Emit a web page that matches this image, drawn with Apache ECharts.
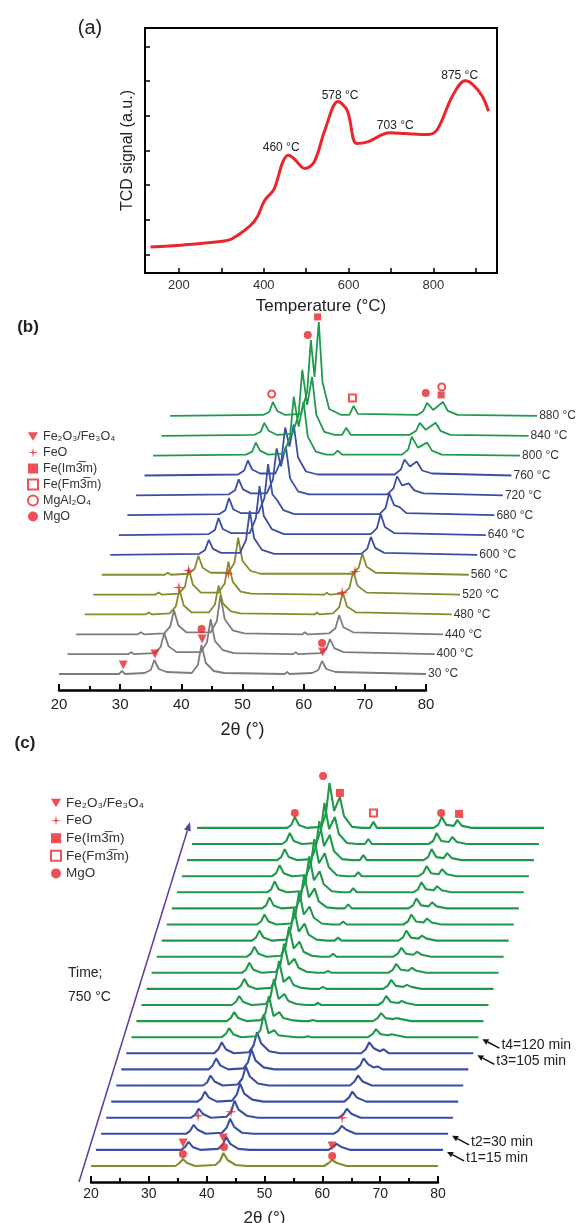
<!DOCTYPE html>
<html><head><meta charset="utf-8">
<script src="https://cdn.jsdelivr.net/npm/echarts@6/dist/echarts.min.js"></script>
<style>html,body{margin:0;padding:0;background:#fff}#c{width:576px;height:1223px}</style>
</head><body><div id="c"></div>
<script>
// ---------------- DATA ----------------
// (a) H2-TPR curve
const tprTemp   = [133,211,298,324,367,385,402,424,445,458,471,497,519,545,575,597,619,645,697,732,788,810,845,875,893,915,930];
const tprSignal = [0.22,0.28,0.38,0.45,0.82,1.09,1.56,1.88,2.67,2.86,2.77,2.48,2.67,3.62,4.41,4.15,3.20,3.25,3.51,3.49,3.46,3.62,4.57,5.01,4.90,4.57,4.13];
const tprAnnText = ['460 °C','578 °C','703 °C','875 °C'];
const tprAnnTemp = [441,580,710,862];
const tprAnnY    = [3.09,4.58,3.72,5.16];
const tprXLabels = [200,400,600,800];
const tprXTicks  = [200,300,400,500,600,700,800,900];
const tprYTicks  = [0,1,2,3,4,5,6];

// (b) in-situ XRD vs temperature: [2theta, intensity]
const bLabels = ['30 °C','400 °C','440 °C','480 °C','520 °C','560 °C','600 °C','640 °C','680 °C','720 °C','760 °C','800 °C','840 °C','880 °C'];
const b30  = [[20,1],[29.8,1],[30.3,4],[30.8,1],[34.0,2],[35.0,5],[35.6,15],[36.3,6],[37.6,3],[41.7,2],[42.7,10],[43.3,30],[44.0,12],[45.3,4],[47,2],[56.9,1],[57.3,3],[57.7,1],[61.4,2],[62.4,5],[63.0,14],[63.7,6],[65.2,3],[80,1]];
const b400 = [[20,1],[29.9,1],[30.4,3],[30.9,1],[34.2,2],[35.2,8],[35.8,22],[36.5,9],[37.8,3],[41.8,3],[42.8,13],[43.4,36],[44.1,14],[45.4,5],[47.2,2],[56.9,1],[57.3,3],[57.7,1],[61.3,2],[62.3,6],[62.9,16],[63.6,7],[65.1,3],[80,1]];
const b440 = [[20,1],[30.1,1],[30.6,3],[31.1,1],[34.4,2],[35.4,9],[36.0,25],[36.7,10],[38,3],[42,3],[43.0,14],[43.6,40],[44.3,16],[45.6,5],[47.5,2],[57.0,1],[57.4,3],[57.8,1],[61.4,2],[62.4,7],[63.0,20],[63.7,8],[65.3,3],[80,1]];
const b480 = [[20,1],[30.0,1],[30.5,3],[31.0,1],[33.9,2],[34.9,9],[35.5,26],[36.2,10],[37.5,3],[40.3,3],[41.3,11],[41.9,30],[42.6,12],[43.9,4],[45.5,2],[57.6,1],[58.0,3],[58.4,1],[60.6,2],[61.6,8],[62.2,23],[62.9,9],[64.4,3],[80,1]];
const b520 = [[20,1],[30.2,1],[30.7,3],[31.2,1],[34.0,2],[35.0,9],[35.6,27],[36.3,11],[37.6,3],[40.5,3],[41.5,12],[42.1,34],[42.8,14],[44.1,4],[45.8,2],[57.8,1],[58.2,3],[58.6,1],[60.9,2],[61.9,8],[62.5,24],[63.2,10],[64.7,3],[80,1]];
const b560 = [[20,1],[30.3,1],[30.8,3],[31.3,1],[34.2,2],[35.2,7],[35.8,20],[36.5,8],[37.8,3],[40.7,3],[41.7,13],[42.3,38],[43.0,15],[44.3,5],[46,2],[61.0,2],[62.0,8],[62.6,22],[63.3,9],[64.8,3],[80,1]];
const b600 = [[20,1],[34.5,2],[35.5,6],[36.1,16],[36.8,7],[38.1,3],[41.2,3],[42.2,16],[42.8,45],[43.5,18],[44.8,6],[46.8,2],[61.0,2],[62.0,7],[62.6,19],[63.3,8],[64.8,3],[80,1]];
const b640 = [[20,1],[34.7,2],[35.7,6],[36.3,18],[37.0,7],[38.3,3],[41.4,3],[42.4,18],[43.0,50],[43.7,20],[45.0,7],[47,2],[61.2,2],[62.2,8],[62.8,22],[63.5,9],[65.0,3],[80,1]];
const b680 = [[20,1],[35.0,2],[36.0,6],[36.6,18],[37.3,7],[38.6,3],[41.4,3],[42.4,18],[43.0,52],[43.7,22],[44.5,16],[45.5,6],[47.3,2],[61.2,2],[62.2,8],[62.8,23],[63.6,11],[64.5,9],[65.6,3],[80,1]];
const b720 = [[20,1],[35.2,2],[36.2,6],[36.8,17],[37.5,7],[38.8,3],[41.4,3],[42.4,17],[43.0,48],[43.7,30],[44.5,50],[45.2,18],[46.5,5],[48.3,2],[61.1,2],[62.1,8],[62.7,20],[63.5,11],[64.6,13],[65.5,6],[67,3],[80,1]];
const b760 = [[20,1],[35.3,2],[36.3,6],[36.9,16],[37.6,7],[38.9,3],[41.4,3],[42.4,17],[43.0,49],[43.7,30],[44.4,52],[45.1,19],[46.4,5],[48.3,2],[60.9,2],[61.9,7],[62.5,17],[63.4,10],[64.5,15],[65.4,6],[67,3],[80,1]];
const b800 = [[20,1],[35.2,2],[36.2,5],[36.8,14],[37.5,6],[38.8,2],[41.4,3],[42.4,20],[43.0,60],[43.8,30],[44.6,55],[45.3,20],[46.6,5],[48.3,2],[49.5,2],[50.2,6],[50.9,2],[60.7,2],[61.7,7],[62.3,20],[63.3,9],[64.8,14],[65.6,6],[67.2,2],[80,1]];
const b840 = [[20,1],[35.2,2],[36.2,5],[36.8,14],[37.5,6],[38.8,2],[41.4,3],[42.4,22],[43.0,67],[43.8,32],[44.6,60],[45.3,22],[46.6,5],[48.3,2],[49.5,2],[50.2,9],[50.9,2],[60.6,2],[61.6,6],[62.2,14],[63.2,7],[64.8,14],[65.6,6],[67.2,2],[80,1]];
const b880 = [[20,1],[35.2,2],[36.2,5],[36.8,15],[37.5,6],[38.8,2],[41.4,3],[42.4,25],[43.0,77],[43.6,40],[44.3,95],[44.9,35],[46.0,8],[48,2],[49.3,2],[50.0,11],[50.7,3],[60.4,2],[61.4,6],[62.0,14],[63.0,7],[64.6,15],[65.4,6],[67,2],[80,1]];
const bTraces = [b30,b400,b440,b480,b520,b560,b600,b640,b680,b720,b760,b800,b840,b880];
const bGroup  = ['gray','gray','gray','olive','olive','olive','blue','blue','blue','blue','blue','green','green','green'];
// (b) phase markers: [traceIndex, 2theta, height]
const bTriangles = [[0,30.5,10],[0,35.7,21],[0,43.4,36],[0,63.1,23]];
const bDots      = [[0,43.3,46],[0,63.0,32],[13,42.5,82],[13,61.8,24]];
const bPlus      = [[3,35.4,28],[3,62.1,23],[4,35.6,25],[4,42.1,22],[4,62.8,24]];
const bSquares   = [[13,44.1,100],[13,64.3,22]];
const bOpenSq    = [[13,49.8,19]];
const bOpenCirc  = [[13,36.6,23],[13,64.4,30]];

// (c) in-situ XRD vs time at 750 °C
const c00 = [[20,1],[34.6,1],[35.3,4],[35.9,8],[36.6,4],[38,1],[41.5,2],[42.3,6],[42.9,14],[43.6,7],[45,2],[47,1],[60.3,1],[61.1,4],[61.7,7],[62.5,4],[64.2,1],[80,1]];
const c01 = [[20,1],[34.7,1],[35.4,4],[36.0,9],[36.7,4],[38.1,1],[41.1,2],[41.9,6],[42.5,14],[43.2,7],[44.6,2],[46.5,1],[60.2,1],[61.0,4],[61.6,7],[62.4,4],[64,1],[80,1]];
const c02 = [[20,1],[34.7,1],[35.4,4],[36.0,10],[36.7,5],[38.1,1],[40.9,2],[41.7,7],[42.3,16],[43.0,8],[44.4,2],[46.3,1],[60.2,1],[61.0,4],[61.6,9],[62.4,5],[64,1],[80,1]];
const c03 = [[20,1],[34.7,1],[35.4,4],[36.0,10],[36.7,5],[38.1,1],[40.8,2],[41.6,7],[42.2,18],[42.9,9],[44.3,3],[46.2,1],[60.2,1],[61.0,4],[61.6,10],[62.4,5],[64,1],[80,1]];
const c04 = [[20,1],[34.9,1],[35.6,4],[36.2,11],[36.9,5],[38.3,1],[40.9,2],[41.7,8],[42.3,19],[43.0,9],[44.4,3],[46.3,1],[60.3,1],[61.1,5],[61.7,11],[62.5,5],[64.1,1],[80,1]];
const c05 = [[20,1],[35.0,1],[35.7,4],[36.3,11],[37.0,5],[38.4,1],[41.0,2],[41.8,8],[42.4,20],[43.1,10],[44.5,3],[46.4,1],[60.4,1],[61.2,5],[61.8,11],[62.6,5],[64.2,1],[80,1]];
const c06 = [[20,1],[35.1,1],[35.8,5],[36.4,12],[37.1,5],[38.5,1],[41.1,2],[41.9,8],[42.5,21],[43.2,10],[44.6,3],[46.5,1],[60.5,1],[61.3,5],[61.9,12],[62.7,6],[63.6,3],[64.3,4],[65.2,1],[80,1]];
const c07 = [[20,1],[35.2,1],[35.9,5],[36.5,12],[37.2,5],[38.6,1],[41.2,2],[42.0,9],[42.6,22],[43.3,11],[44.7,3],[46.6,1],[60.6,1],[61.4,5],[62.0,12],[62.8,6],[63.8,3],[64.5,5],[65.4,1],[80,1]];
const c08 = [[20,1],[35.6,1],[36.3,4],[36.9,10],[37.6,4],[39,1],[41.5,2],[42.3,8],[42.9,24],[43.7,5],[44.7,8],[45.4,3],[46.8,2],[48.5,1],[49.9,1],[50.5,2],[51.1,1],[60.9,1],[61.7,4],[62.3,9],[63.1,4],[64.4,3],[65,4],[65.8,3],[67.5,1],[80,1]];
const c09 = [[20,1],[35.6,1],[36.3,4],[36.9,10],[37.6,4],[39,1],[41.5,2],[42.3,9],[42.9,26],[43.7,6],[44.7,10],[45.4,4],[46.8,2],[48.5,1],[49.9,1],[50.5,2],[51.1,1],[60.9,1],[61.7,4],[62.3,9],[63.1,4],[64.4,3],[65,4],[65.8,3],[67.5,1],[80,1]];
const c10 = [[20,1],[35.6,1],[36.3,4],[36.9,10],[37.6,4],[39,1],[41.5,2],[42.3,9],[42.9,27],[43.7,7],[44.7,12],[45.4,5],[46.8,2],[48.5,1],[49.9,1],[50.5,3],[51.1,1],[60.9,1],[61.7,4],[62.3,10],[63.1,4],[64.4,3],[65,5],[65.8,3],[67.5,1],[80,1]];
const c11 = [[20,1],[35.6,1],[36.3,4],[36.9,11],[37.6,4],[39,1],[41.5,2],[42.3,10],[42.9,29],[43.7,8],[44.7,13],[45.4,5],[46.8,2],[48.5,1],[49.9,1],[50.5,3],[51.1,1],[60.9,1],[61.7,4],[62.3,10],[63.1,4],[64.4,3],[65,5],[65.8,3],[67.5,1],[80,1]];
const c12 = [[20,1],[35.6,1],[36.3,4],[36.9,11],[37.6,4],[39,1],[41.5,2],[42.3,10],[42.9,30],[43.7,9],[44.7,15],[45.4,6],[46.8,2],[48.5,1],[49.9,1],[50.5,3],[51.1,1],[60.9,1],[61.7,4],[62.3,10],[63.1,4],[64.4,3],[65,6],[65.8,3],[67.5,1],[80,1]];
const c13 = [[20,1],[35.6,1],[36.3,4],[36.9,11],[37.6,4],[39,1],[41.5,2],[42.3,11],[42.9,31],[43.7,9],[44.7,16],[45.4,6],[46.8,2],[48.5,1],[49.9,1],[50.5,4],[51.1,1],[60.9,1],[61.7,4],[62.3,10],[63.1,4],[64.4,3],[65,6],[65.8,3],[67.5,1],[80,1]];
const c14 = [[20,1],[35.6,1],[36.3,4],[36.9,11],[37.6,4],[39,1],[41.5,2],[42.3,12],[42.9,33],[43.7,10],[44.7,18],[45.4,7],[46.8,2],[48.5,1],[49.9,1],[50.5,4],[51.1,1],[60.9,1],[61.7,4],[62.3,11],[63.1,4],[64.4,3],[65,6],[65.8,3],[67.5,1],[80,1]];
const c15 = [[20,1],[35.6,1],[36.3,4],[36.9,11],[37.6,4],[39,1],[41.5,2],[42.3,12],[42.9,34],[43.7,11],[44.7,19],[45.4,8],[46.8,2],[48.5,1],[49.9,1],[50.5,4],[51.1,1],[60.9,1],[61.7,4],[62.3,11],[63.1,4],[64.4,3],[65,7],[65.8,3],[67.5,1],[80,1]];
const c16 = [[20,1],[35.6,1],[36.3,4],[36.9,12],[37.6,4],[39,1],[41.5,2],[42.3,12],[42.9,35],[43.7,12],[44.7,21],[45.4,8],[46.8,2],[48.5,1],[49.9,1],[50.5,5],[51.1,1],[60.9,1],[61.7,4],[62.3,11],[63.1,4],[64.4,3],[65,7],[65.8,3],[67.5,1],[80,1]];
const c17 = [[20,1],[35.6,1],[36.3,4],[36.9,12],[37.6,4],[39,1],[41.5,2],[42.3,13],[42.9,37],[43.7,13],[44.7,22],[45.4,9],[46.8,2],[48.5,1],[49.9,1],[50.5,5],[51.1,1],[60.9,1],[61.7,4],[62.3,11],[63.1,4],[64.4,3],[65,7],[65.8,3],[67.5,1],[80,1]];
const c18 = [[20,1],[35.6,1],[36.3,4],[36.9,12],[37.6,4],[39,1],[41.5,2],[42.3,13],[42.9,38],[43.7,14],[44.7,24],[45.4,10],[46.8,2],[48.5,1],[49.9,1],[50.5,5],[51.1,1],[60.9,1],[61.7,4],[62.3,11],[63.1,4],[64.4,3],[65,8],[65.8,3],[67.5,1],[80,1]];
const c19 = [[20,1],[35.6,1],[36.3,4],[36.9,12],[37.6,4],[39,1],[41.5,2],[42.3,14],[42.9,40],[43.7,15],[44.7,26],[45.4,10],[46.8,2],[48.5,1],[49.9,1],[50.5,6],[51.1,1],[60.9,1],[61.7,4],[62.3,12],[63.1,4],[64.4,3],[65,8],[65.8,3],[67.5,1],[80,1]];
const c20 = [[20,1],[35.6,1],[36.3,4],[36.9,12],[37.6,4],[39,1],[41.5,2],[42.3,15],[42.9,42],[43.7,16],[44.7,28],[45.4,11],[46.8,2],[48.5,1],[49.9,1],[50.5,6],[51.1,1],[60.9,1],[61.7,4],[62.3,12],[63.1,4],[64.4,3],[65,8],[65.8,3],[67.5,1],[80,1]];
const c21 = [[20,1],[35.6,1],[36.3,4],[36.9,12],[37.6,4],[39,1],[41.5,2],[42.3,16],[42.9,46],[43.7,18],[44.7,32],[45.4,13],[46.8,2],[48.5,1],[49.9,1],[50.5,7],[51.1,1],[60.9,1],[61.7,4],[62.3,12],[63.1,4],[64.4,3],[65,9],[65.8,3],[67.5,1],[80,1]];
const cTraces = [c00,c01,c02,c03,c04,c05,c06,c07,c08,c09,c10,c11,c12,c13,c14,c15,c16,c17,c18,c19,c20,c21];
const cGroup  = ['olive','blue','blue','blue','blue','blue','blue','blue','green','green','green','green','green','green','green','green','green','green','green','green','green','green'];
const cTimeIdx  = [1,2,7,8];
const cTimeText = ['t1=15 min','t2=30 min','t3=105 min','t4=120 min'];
const cTriangles = [[1,35.05,8],[1,42.0,13],[1,60.8,5]];
const cDots      = [[0,35.9,13],[0,43.0,20],[0,61.7,11],[21,36.9,16],[21,41.8,53],[21,62.2,16]];
const cPlus      = [[3,35.9,3],[3,41.6,7],[3,60.8,1]];
const cSquares   = [[21,44.7,36],[21,65.3,15]];
const cOpenSq    = [[21,50.5,16]];

// ---------------- STYLE / LAYOUT ----------------
const FONT = '"Liberation Sans", Arial, sans-serif';
const RED = '#e8262b';
const COL = {gray:'#7d7d7d', olive:'#858c2c', blue:'#3b4ea6', green:'#1f9a4d'};
const NAMES = {tri:'Fe₂O₃/Fe₃O₄', plus:'FeO', sq:'Fe(Im3\u0305m)', osq:'Fe(Fm3\u0305m)', ocirc:'MgAl₂O₄', dot:'MgO'};
const STAR = 'path://M0,-10 L1.6,-1.6 L10,0 L1.6,1.6 L0,10 L-1.6,1.6 L-10,0 L-1.6,-1.6 Z';
const TRI_DOWN = 'path://M-5,-4.3 L5,-4.3 L0,4.3 Z';
const LB = {x0:59, W:367, base0:675, dx:8.55, dy:19.85, axisY:690};
const LC = {x0:91, W:347, base0:1167, dx:5.05, dy:16.1, axisY:1182};
const TH = 120; // trace grid height (px == intensity units)

const grids=[], xAxes=[], yAxes=[], series=[];
function addGrid(g, x, y){
  grids.push(Object.assign({outerBoundsMode:'none'}, g));
  const i = grids.length-1;
  xAxes.push(Object.assign({gridIndex:i}, x));
  yAxes.push(Object.assign({gridIndex:i}, y));
  return i;
}

// ---- panel (a)
const ga = addGrid({left:145, top:28, width:352, height:245, show:true, borderColor:'#000', borderWidth:2},
  {type:'value', min:120, max:950,
   axisLine:{show:true, onZero:false, lineStyle:{color:'#000', width:2}},
   axisTick:{show:true, inside:true, length:5, lineStyle:{color:'#000', width:1.5}, customValues:tprXTicks},
   axisLabel:{show:true, customValues:tprXLabels, fontSize:13, color:'#333', margin:6, fontFamily:FONT},
   splitLine:{show:false},
   name:'Temperature (°C)', nameLocation:'middle', nameGap:25, nameTextStyle:{fontSize:17, color:'#222', fontFamily:FONT}},
  {type:'value', min:-0.53, max:6.53,
   axisLine:{show:true, onZero:false, lineStyle:{color:'#000', width:2}},
   axisTick:{show:true, inside:true, length:5, lineStyle:{color:'#000', width:1.5}, customValues:tprYTicks},
   axisLabel:{show:false}, splitLine:{show:false},
   name:'TCD signal (a.u.)', nameLocation:'middle', nameGap:9, nameRotate:90, nameTextStyle:{fontSize:16, color:'#222', fontFamily:FONT}});
series.push({type:'line', xAxisIndex:ga, yAxisIndex:ga, data:tprTemp.map((t,i)=>[t,tprSignal[i]]),
  smooth:0.35, symbol:'none', lineStyle:{color:RED, width:3}, silent:true,
  markPoint:{symbol:'circle', symbolSize:0, silent:true,
    label:{show:true, position:'inside', formatter:'{b}', fontSize:12, color:'#222', fontFamily:FONT},
    data:tprAnnText.map((s,i)=>({name:s, coord:[tprAnnTemp[i], tprAnnY[i]]}))}});

// ---- axis helper for XRD panels
function xrdAxis(L, labelSize, nameSize, margin, nameGap){
  return addGrid({left:L.x0, top:L.axisY-80, width:L.W, height:80},
    {type:'value', min:20, max:80, interval:10,
     axisLine:{show:true, onZero:false, lineStyle:{color:'#000', width:2.5}},
     axisTick:{show:true, inside:true, length:6, lineStyle:{color:'#000', width:2}},
     minorTick:{show:true, splitNumber:2, length:4, lineStyle:{color:'#000', width:2}},
     axisLabel:{fontSize:labelSize, color:'#222', margin:margin, fontFamily:FONT},
     splitLine:{show:false}, minorSplitLine:{show:false},
     name:'2θ (°)', nameLocation:'middle', nameGap:nameGap, nameTextStyle:{fontSize:nameSize, color:'#222', fontFamily:FONT}},
    {type:'value', show:false, min:0, max:1});
}
function traceGrid(L, i){
  const base = L.base0 - L.dy*i;
  return addGrid({left:L.x0 + L.dx*i, top:base-TH, width:L.W, height:TH},
    {type:'value', min:20, max:80, show:false}, {type:'value', min:0, max:TH, show:false});
}
function markers(name, list, gridIdx, symbol, size, extra){
  const by = {};
  list.forEach(([ti,x,y])=>{ (by[ti]=by[ti]||[]).push([x,y]); });
  Object.keys(by).forEach(ti=>{
    series.push(Object.assign({type:'scatter', name:name, xAxisIndex:gridIdx[ti], yAxisIndex:gridIdx[ti],
      data:by[ti], symbol:symbol, symbolSize:size, itemStyle:{color:RED}, silent:true, z:5}, extra||{}));
  });
}

// ---- panel (b)
xrdAxis(LB, 15, 18, 7, 31);
const bGrid = [];
bTraces.forEach((tr,i)=>{
  const g = traceGrid(LB, i); bGrid.push(g);
  series.push({type:'line', xAxisIndex:g, yAxisIndex:g, data:tr, symbol:'none', silent:true,
    lineStyle:{color:COL[bGroup[i]], width:1.8},
    endLabel:{show:true, formatter:bLabels[i], distance:2, fontSize:12, color:'#333', fontFamily:FONT}});
});
markers(NAMES.tri, bTriangles, bGrid, TRI_DOWN, 9);
markers(NAMES.plus, bPlus, bGrid, STAR, 12);
markers(NAMES.sq, bSquares, bGrid, 'rect', 7);
markers(NAMES.osq, bOpenSq, bGrid, 'emptyRect', 7, {itemStyle:{color:RED, borderWidth:1.5}});
markers(NAMES.ocirc, bOpenCirc, bGrid, 'emptyCircle', 7, {itemStyle:{color:RED, borderWidth:1.5}});
markers(NAMES.dot, bDots, bGrid, 'circle', 8);

// ---- panel (c)
xrdAxis(LC, 14, 17, 5, 28);
const cGrid = [];
cTraces.forEach((tr,i)=>{
  const g = traceGrid(LC, i); cGrid.push(g);
  series.push({type:'line', xAxisIndex:g, yAxisIndex:g, data:tr, symbol:'none', silent:true,
    lineStyle:{color:COL[cGroup[i]], width:2.1}});
});
markers(NAMES.tri, cTriangles, cGrid, TRI_DOWN, 9);
markers(NAMES.plus, cPlus, cGrid, STAR, 12);
markers(NAMES.sq, cSquares, cGrid, 'rect', 8);
markers(NAMES.osq, cOpenSq, cGrid, 'emptyRect', 7, {itemStyle:{color:RED, borderWidth:1.5}});
markers(NAMES.dot, cDots, cGrid, 'circle', 8);

// ---- graphics: panel letters, time arrow, time labels
const gfx = [];
const txt = (x,y,s,opt)=>gfx.push({type:'text', x:x, y:y, silent:true,
  style:Object.assign({text:s, fill:'#222', font:'14px '+FONT, textAlign:'left', textVerticalAlign:'middle'}, opt||{})});
txt(90, 28, '(a)', {font:'20px '+FONT, textAlign:'center'});
txt(28, 327, '(b)', {font:'bold 17px '+FONT, textAlign:'center'});
txt(25, 743, '(c)', {font:'bold 17px '+FONT, textAlign:'center'});
txt(68, 973, 'Time;', {font:'14px '+FONT});
txt(68, 997, '750 °C', {font:'14px '+FONT});

function arrow(x1,y1,x2,y2,color,w,hl,hw){ // head at (x2,y2)
  const len = Math.hypot(x2-x1,y2-y1), ux=(x2-x1)/len, uy=(y2-y1)/len;
  const bx = x2-ux*hl, by = y2-uy*hl, nx=-uy, ny=ux;
  gfx.push({type:'line', silent:true, shape:{x1:x1,y1:y1,x2:bx,y2:by}, style:{stroke:color, lineWidth:w}});
  gfx.push({type:'polygon', silent:true, shape:{points:[[x2,y2],[bx+nx*hw,by+ny*hw],[bx-nx*hw,by-ny*hw]]}, style:{fill:color}});
}
arrow(LC.x0-12, LC.axisY, LC.x0+LC.dx*21-7, LC.base0-LC.dy*21-7, '#5c3d9e', 1.5, 9, 3.5);
cTimeIdx.forEach((ti,k)=>{
  const endX = LC.x0 + LC.dx*ti + LC.W, base = LC.base0 - LC.dy*ti;
  arrow(endX+21, base+10, endX+4, base+1, '#111', 1.5, 6, 3);
  txt(endX+23, base+7, cTimeText[k], {font:'14px '+FONT});
});

const option = {
  animation:false, backgroundColor:'#fff',
  textStyle:{fontFamily:FONT},
  grid:grids, xAxis:xAxes, yAxis:yAxes, series:series,
  legend:[
    {orient:'vertical', left:27, top:430, padding:0, itemWidth:10, itemHeight:10, itemGap:3, selectedMode:false,
     textStyle:{fontSize:12.5, color:'#333', lineHeight:13, fontFamily:FONT},
     data:[NAMES.tri, NAMES.plus, NAMES.sq, NAMES.osq, NAMES.ocirc, NAMES.dot]},
    {orient:'vertical', left:50, top:796, padding:0, itemWidth:10, itemHeight:10, itemGap:3.6, selectedMode:false,
     textStyle:{fontSize:13.5, color:'#333', lineHeight:14, fontFamily:FONT},
     data:[NAMES.tri, NAMES.plus, NAMES.sq, NAMES.osq, NAMES.dot]}
  ],
  graphic:{elements:gfx}
};
const chart = echarts.init(document.getElementById('c'), null, {renderer:'canvas', width:576, height:1223});
chart.setOption(option);
</script>
</body></html>
